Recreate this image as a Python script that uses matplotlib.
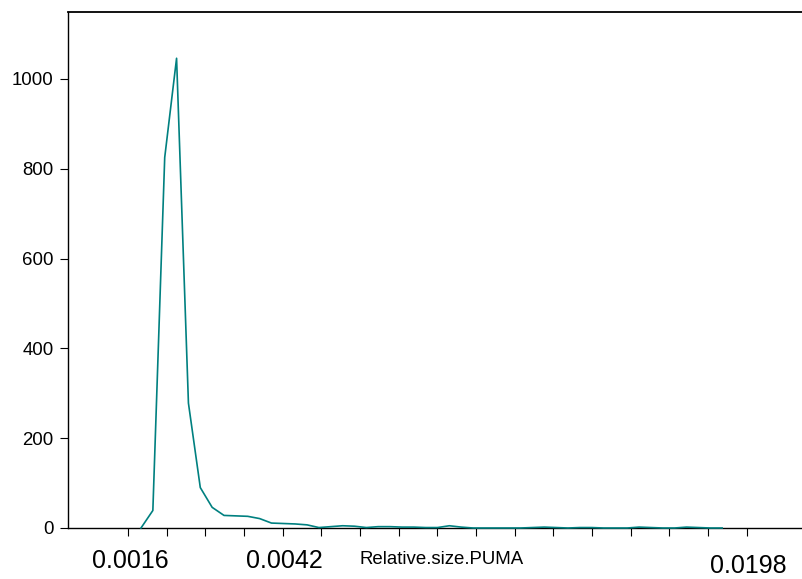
import matplotlib.pyplot as plt
import numpy as np

# frequency polygon of Relative.size.PUMA
counts = [0, 39, 825, 1046, 278, 90, 46, 28, 27, 26,
          21, 11, 10, 9, 7, 1, 3, 5, 4, 1,
          3, 3, 2, 2, 1, 1, 5, 2, 0, 0,
          0, 0, 0, 1, 2, 1, 0, 1, 1, 0,
          0, 0, 2, 1, 0, 0, 2, 1, 0, 0]
x_start = 0.336   # first bin, in tick units
x_step = 0.3067
tick_pos = list(range(17))
tick_text = {0: '0.0016', 4: '0.0042', 16: '0.0198'}
y_ticks = [0, 200, 400, 600, 800, 1000]

plt.rcParams['font.family'] = ['Liberation Sans', 'DejaVu Sans']

fig = plt.figure(figsize=(8.03, 5.79), dpi=100)
ax = fig.add_axes([68 / 803, 51 / 579, 1 - 68 / 803, 516 / 579])

xs = x_start + x_step * np.arange(len(counts))
ax.plot(xs, counts, color='#008080', linewidth=1.2, zorder=3, clip_on=False)

ax.set_xlim((68 - 128) / 38.67, (803 - 128) / 38.67)
ax.set_ylim(0, 1149)

ax.set_xticks(tick_pos)
ax.set_xticklabels([''] * len(tick_pos))
ax.set_yticks(y_ticks)
ax.set_yticklabels([str(v) for v in y_ticks], fontsize=13.4)
ax.tick_params(axis='both', direction='out', length=6, width=0.8, pad=4.5)

for s in ['left', 'bottom']:
    ax.spines[s].set_linewidth(1.0)
ax.spines['top'].set_linewidth(1.3)
ax.spines['right'].set_visible(False)

tr = ax.get_xaxis_transform()
for k, lab in tick_text.items():
    yy = -0.0736 if k == 16 else -0.064
    ax.text(k + 0.05, yy, lab, transform=tr, fontsize=18, ha='center', va='center')
ax.text(8.1, -0.062, 'Relative.size.PUMA', transform=tr, fontsize=13.4,
        ha='center', va='center')

fig.savefig('out.png', dpi=100)
